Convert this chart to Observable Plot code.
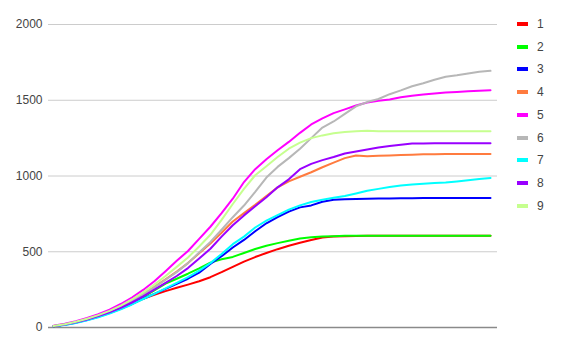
<!DOCTYPE html>
<html>
<head>
<meta charset="utf-8">
<script src="https://cdn.jsdelivr.net/npm/d3@7"></script>
<script src="https://cdn.jsdelivr.net/npm/@observablehq/plot@0.6"></script>
<style>
  html, body { margin: 0; padding: 0; background: #fff; }
  #wrap { position: relative; width: 567px; height: 351px; font-family: "Liberation Sans", Arial, sans-serif; }
  #legend { position: absolute; left: 517px; top: 0; }
  .item { position: absolute; left: 0; height: 14px; width: 40px; }
  .sw { position: absolute; left: 0; top: 5px; width: 11px; height: 4px; }
  .lab { position: absolute; left: 20px; top: -1px; font-size: 12px; color: #444; line-height: 16px; }
</style>
</head>
<body>
<div id="wrap"><div id="chart"></div><div id="legend"></div></div>
<script>
// Series names and colours
const seriesNames = ["1", "2", "3", "4", "5", "6", "7", "8", "9"];
const seriesColors = ["#ff0000", "#00ff00", "#0000ff", "#ff7b3f", "#ff00ff", "#b7b7b7", "#00ffff", "#9900ff", "#c6ff8f"];

// Cumulative values per series, one entry per step
const s1 = [9, 19, 33, 52, 74, 100, 128, 158, 190, 215, 240, 262, 283, 305, 332, 365, 400, 435, 465, 492, 517, 540, 560, 578, 594, 600, 602, 604, 605, 605, 605, 605, 605, 605, 605, 605, 605, 605, 605, 605];
const s2 = [9, 19, 33, 52, 74, 100, 130, 165, 200, 245, 290, 322, 355, 390, 428, 450, 466, 492, 518, 540, 557, 572, 587, 595, 600, 603, 605, 606, 606, 606, 606, 606, 606, 606, 606, 606, 606, 606, 606, 606];
const s3 = [9, 18, 32, 50, 70, 95, 123, 155, 190, 222, 255, 288, 322, 362, 420, 470, 528, 578, 635, 688, 728, 765, 793, 806, 830, 843, 847, 849, 850, 851, 852, 853, 853, 854, 854, 854, 855, 855, 855, 855];
const s4 = [10, 21, 36, 56, 80, 107, 140, 178, 220, 268, 318, 370, 425, 490, 555, 625, 700, 755, 810, 868, 925, 965, 995, 1025, 1058, 1088, 1118, 1135, 1131, 1133, 1135, 1138, 1141, 1143, 1144, 1145, 1145, 1145, 1145, 1145];
const s5 = [12, 25, 42, 63, 88, 118, 155, 198, 248, 305, 372, 440, 505, 585, 665, 755, 850, 960, 1045, 1110, 1170, 1225, 1285, 1340, 1380, 1415, 1440, 1465, 1485, 1497, 1505, 1520, 1530, 1538, 1545, 1551, 1555, 1559, 1563, 1566];
const s6 = [10, 20, 35, 55, 78, 105, 138, 175, 218, 265, 315, 365, 425, 495, 565, 645, 728, 805, 895, 990, 1060, 1118, 1180, 1250, 1320, 1360, 1410, 1460, 1488, 1508, 1540, 1565, 1592, 1612, 1635, 1655, 1665, 1677, 1688, 1694];
const s7 = [8, 17, 30, 47, 68, 92, 120, 152, 188, 222, 258, 295, 332, 375, 425, 485, 550, 600, 660, 705, 742, 778, 806, 828, 843, 856, 868, 885, 903, 915, 927, 937, 944, 949, 953, 957, 964, 972, 980, 987];
const s8 = [9, 20, 34, 53, 75, 100, 130, 165, 205, 250, 295, 340, 392, 455, 520, 600, 675, 740, 800, 860, 925, 978, 1045, 1080, 1105, 1125, 1148, 1162, 1175, 1188, 1198, 1207, 1214, 1215, 1216, 1216, 1216, 1216, 1216, 1216];
const s9 = [10, 22, 38, 58, 82, 110, 145, 185, 232, 283, 340, 400, 462, 535, 612, 710, 815, 915, 1005, 1065, 1125, 1180, 1220, 1250, 1268, 1282, 1290, 1295, 1299, 1296, 1296, 1296, 1296, 1296, 1296, 1296, 1296, 1296, 1296, 1296];

// Y axis ticks
const yTicks = [0, 500, 1000, 1500, 2000];

const allSeries = [s1, s2, s3, s4, s5, s6, s7, s8, s9];
const rows = allSeries.flatMap((vals, k) => vals.map((v, i) => ({series: seriesNames[k], i, v})));
const n = s1.length;

const chart = Plot.plot({
  width: 567,
  height: 351,
  marginLeft: 48,
  marginRight: 70,
  marginTop: 24,
  marginBottom: 24,
  style: {fontFamily: '"Liberation Sans", Arial, sans-serif', fontSize: "12px", color: "#444", background: "#fff"},
  x: {domain: [0, n - 1], insetLeft: 5, insetRight: 7, axis: null},
  y: {domain: [0, 2000], axis: null},
  color: {domain: seriesNames, range: seriesColors},
  marks: [
    Plot.gridY(yTicks, {stroke: "#cccccc", strokeOpacity: 1, strokeWidth: 1}),
    Plot.ruleY([0], {stroke: "#8a8a8a", strokeWidth: 1.5}),
    Plot.axisY(yTicks, {tickSize: 0, tickPadding: 6, label: null, fill: "#444", tickFormat: d3.format("d")}),
    Plot.line(rows, {x: "i", y: "v", z: "series", stroke: "series", strokeWidth: 2, strokeLinejoin: "round"})
  ]
});
document.getElementById("chart").appendChild(chart);

// Legend column on the right
const legend = document.getElementById("legend");
seriesNames.forEach((name, k) => {
  const item = document.createElement("div");
  item.className = "item";
  item.style.top = (24 + k * 22.7 - 7) + "px";
  item.innerHTML = `<div class="sw" style="background:${seriesColors[k]}"></div><div class="lab">${name}</div>`;
  legend.appendChild(item);
});
</script>
</body>
</html>
